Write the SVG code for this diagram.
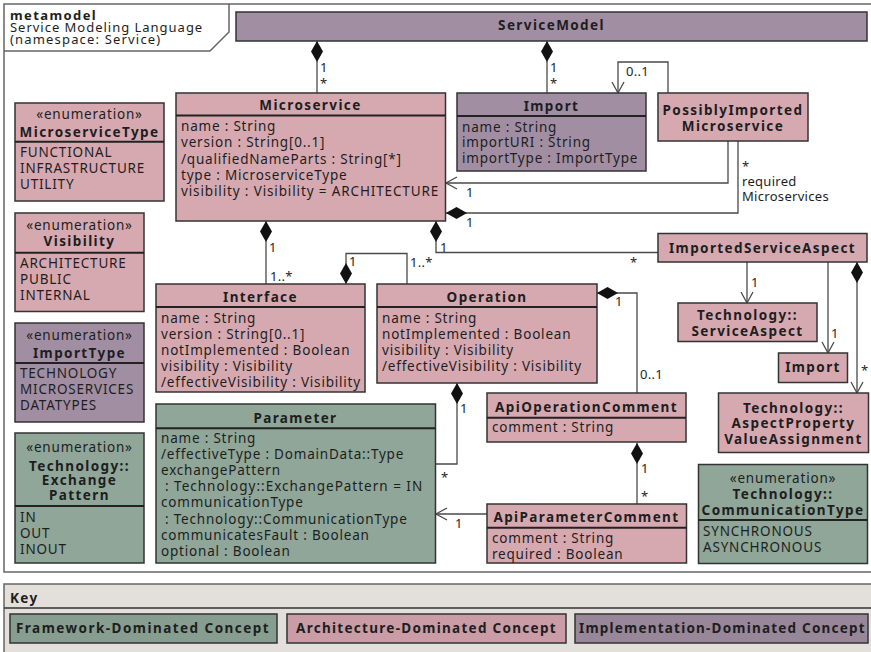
<svg xmlns="http://www.w3.org/2000/svg" width="871" height="652" viewBox="0 0 871 652">
<defs>
<style>
text{font-family:"Noto Sans","Open Sans","DejaVu Sans",sans-serif;font-size:13.5px;letter-spacing:0.8px;fill:#1e1e1e}
.b{font-weight:700;letter-spacing:1.4px}
.m{text-anchor:middle}
.lb{font-size:13px;letter-spacing:0.3px}
.hd{font-size:13px}
.box{stroke:#333;stroke-width:1.5}
.sep{stroke:#222;stroke-width:2}
.pk{fill:#d6a9b1}
.pu{fill:#a28ea3}
.gr{fill:#8fa699}
.cn{fill:none;stroke:#4a4a4a;stroke-width:1.3}
.frame{fill:none;stroke:#666;stroke-width:1.5}
</style>
<marker id="dia" markerUnits="userSpaceOnUse" markerWidth="22" markerHeight="14" refX="0" refY="6.5" orient="auto"><path d="M0,6.5 L10.5,0.5 L21,6.5 L10.5,12.5 Z" fill="#111"/></marker>
<marker id="arr" markerUnits="userSpaceOnUse" markerWidth="14" markerHeight="14" refX="12" refY="7" orient="auto"><path d="M1,1 L12,7 L1,13" fill="none" stroke="#4a4a4a" stroke-width="1.3"/></marker>
</defs>
<rect width="871" height="652" fill="#fff"/>
<g id="frame">
<rect class="frame" x="4" y="4" width="880" height="568"/>
<path class="frame" d="M4,51 H210 L229,32 V4"/>
<text class="b hd" x="10" y="19.5">metamodel</text>
<text class="hd" x="10" y="31.5" textLength="193" lengthAdjust="spacing">Service Modeling Language</text>
<text class="hd" x="10" y="44" textLength="151" lengthAdjust="spacing">(namespace: Service)</text>
</g>

<g id="connectors">
<path class="cn" d="M317,41 V93" marker-start="url(#dia)"/>
<path class="cn" d="M547,41 V93" marker-start="url(#dia)"/>
<path class="cn" d="M668,93 V62 H618 V93" marker-end="url(#arr)"/>
<path class="cn" d="M728,141 V183 H446" marker-end="url(#arr)"/>
<path class="cn" d="M446,213 H738 V141" marker-start="url(#dia)"/>
<path class="cn" d="M266,221 V284" marker-start="url(#dia)"/>
<path class="cn" d="M436,221 V252.5 H658" marker-start="url(#dia)"/>
<path class="cn" d="M346,284 V253.5 H407 V284" marker-start="url(#dia)"/>
<path class="cn" d="M597,293 H637 V393" marker-start="url(#dia)"/>
<path class="cn" d="M457,383 V464 H436" marker-start="url(#dia)"/>
<path class="cn" d="M487,514 H436" marker-end="url(#arr)"/>
<path class="cn" d="M637,443 V504" marker-start="url(#dia)"/>
<path class="cn" d="M747,262 V303" marker-end="url(#arr)"/>
<path class="cn" d="M828,262 V353" marker-end="url(#arr)"/>
<path class="cn" d="M857,262 V393" marker-start="url(#dia)" marker-end="url(#arr)"/>
<text class="lb" x="320" y="71.5">1</text>
<text class="lb" x="320" y="88">*</text>
<text class="lb" x="550" y="71.5">1</text>
<text class="lb" x="550" y="88">*</text>
<text class="lb" x="626" y="76">0..1</text>
<text class="lb" x="466" y="196.5">1</text>
<text class="lb" x="466" y="226.5">1</text>
<text class="lb" x="742" y="171">*</text>
<text class="lb" x="742" y="185.5">required</text>
<text class="lb" x="742" y="200.5">Microservices</text>
<text class="lb" x="269" y="252">1</text>
<text class="lb" x="270" y="280.5">1..*</text>
<text class="lb" x="440" y="251.5">1</text>
<text class="lb" x="630" y="267">*</text>
<text class="lb" x="349" y="266">1</text>
<text class="lb" x="410" y="266.5">1..*</text>
<text class="lb" x="615" y="306">1</text>
<text class="lb" x="640" y="378.5">0..1</text>
<text class="lb" x="460" y="412.5">1</text>
<text class="lb" x="441" y="482">*</text>
<text class="lb" x="455" y="528">1</text>
<text class="lb" x="641" y="473.3">1</text>
<text class="lb" x="641" y="501">*</text>
<text class="lb" x="751" y="286.5">1</text>
<text class="lb" x="831" y="338">1</text>
<text class="lb" x="861" y="375">*</text>
</g>

<g id="ServiceModel">
<rect class="box pu" x="236" y="12" width="631" height="29"/>
<text class="b m" x="551.5" y="30">ServiceModel</text>
</g>

<g id="Microservice">
<rect class="box pk" x="176" y="93" width="269.5" height="128"/>
<line class="sep" x1="176" y1="115.5" x2="445.5" y2="115.5"/>
<text class="b m" x="310.5" y="110">Microservice</text>
<text x="181" y="131.2">name : String</text>
<text x="181" y="147.4">version : String[0..1]</text>
<text x="181" y="163.6">/qualifiedNameParts : String[*]</text>
<text x="181" y="179.8">type : MicroserviceType</text>
<text x="181" y="196" textLength="258" lengthAdjust="spacing">visibility : Visibility = ARCHITECTURE</text>
</g>

<g id="Import">
<rect class="box pu" x="457" y="93" width="189" height="78"/>
<line class="sep" x1="457" y1="116" x2="646" y2="116"/>
<text class="b m" x="551.5" y="110.5">Import</text>
<text x="462" y="131.5">name : String</text>
<text x="462" y="147.3">importURI : String</text>
<text x="462" y="163">importType : ImportType</text>
</g>

<g id="PossiblyImportedMicroservice">
<rect class="box pk" x="658" y="93" width="150" height="48"/>
<text class="b m" x="733" y="114.7">PossiblyImported</text>
<text class="b m" x="733" y="130.5">Microservice</text>
</g>

<g id="MicroserviceType">
<rect class="box pk" x="15" y="103" width="149" height="98"/>
<line class="sep" x1="15" y1="141.7" x2="164" y2="141.7"/>
<text class="m" x="89.5" y="119">«enumeration»</text>
<text class="b m" x="89.5" y="137">MicroserviceType</text>
<text x="20" y="157.3">FUNCTIONAL</text>
<text x="20" y="173.3">INFRASTRUCTURE</text>
<text x="20" y="189.3">UTILITY</text>
</g>

<g id="Visibility">
<rect class="box pk" x="15" y="213" width="129" height="98.5"/>
<line class="sep" x1="15" y1="252.7" x2="144" y2="252.7"/>
<text class="m" x="79.5" y="230">«enumeration»</text>
<text class="b m" x="79.5" y="246">Visibility</text>
<text x="20" y="268.3">ARCHITECTURE</text>
<text x="20" y="284.3">PUBLIC</text>
<text x="20" y="300.3">INTERNAL</text>
</g>

<g id="ImportType">
<rect class="box pu" x="15" y="323" width="129" height="99"/>
<line class="sep" x1="15" y1="363" x2="144" y2="363"/>
<text class="m" x="79.5" y="340">«enumeration»</text>
<text class="b m" x="79.5" y="357.5">ImportType</text>
<text x="20" y="378.3">TECHNOLOGY</text>
<text x="20" y="394.3">MICROSERVICES</text>
<text x="20" y="410.3">DATATYPES</text>
</g>

<g id="ExchangePattern">
<rect class="box gr" x="15" y="433" width="129" height="130"/>
<line class="sep" x1="15" y1="506" x2="144" y2="506"/>
<text class="m" x="79.5" y="452">«enumeration»</text>
<text class="b m" x="79.5" y="470.5">Technology::</text>
<text class="b m" x="79.5" y="485">Exchange</text>
<text class="b m" x="79.5" y="500">Pattern</text>
<text x="20" y="521.7">IN</text>
<text x="20" y="537.7">OUT</text>
<text x="20" y="553.7">INOUT</text>
</g>

<g id="Interface">
<rect class="box pk" x="156" y="284" width="209" height="108"/>
<line class="sep" x1="156" y1="307" x2="365" y2="307"/>
<text class="b m" x="260.5" y="301.7">Interface</text>
<text x="161" y="322.5">name : String</text>
<text x="161" y="338.5">version : String[0..1]</text>
<text x="161" y="354.5">notImplemented : Boolean</text>
<text x="161" y="370.5">visibility : Visibility</text>
<text x="161" y="386.5">/effectiveVisibility : Visibility</text>
</g>

<g id="Operation">
<rect class="box pk" x="377" y="284" width="220" height="99"/>
<line class="sep" x1="377" y1="307" x2="597" y2="307"/>
<text class="b m" x="487" y="301.7">Operation</text>
<text x="382" y="322.5">name : String</text>
<text x="382" y="338.5">notImplemented : Boolean</text>
<text x="382" y="354.5">visibility : Visibility</text>
<text x="382" y="370.5">/effectiveVisibility : Visibility</text>
</g>

<g id="Parameter">
<rect class="box gr" x="156" y="404" width="279.5" height="159"/>
<line class="sep" x1="156" y1="428.3" x2="435.5" y2="428.3"/>
<text class="b m" x="295.5" y="422.5">Parameter</text>
<text x="161" y="443">name : String</text>
<text x="161" y="459.1">/effectiveType : DomainData::Type</text>
<text x="161" y="475.2">exchangePattern</text>
<text x="165" y="491.3" textLength="258" lengthAdjust="spacing">: Technology::ExchangePattern = IN</text>
<text x="161" y="507.4">communicationType</text>
<text x="165" y="523.5">: Technology::CommunicationType</text>
<text x="161" y="539.6">communicatesFault : Boolean</text>
<text x="161" y="555.7">optional : Boolean</text>
</g>

<g id="ApiOperationComment">
<rect class="box pk" x="487" y="393" width="199" height="49"/>
<line class="sep" x1="487" y1="417.7" x2="686" y2="417.7"/>
<text class="b m" x="586.5" y="411.7">ApiOperationComment</text>
<text x="492" y="432">comment : String</text>
</g>

<g id="ApiParameterComment">
<rect class="box pk" x="487" y="504" width="199.5" height="59"/>
<line class="sep" x1="487" y1="527.7" x2="686.5" y2="527.7"/>
<text class="b m" x="586.5" y="521.7">ApiParameterComment</text>
<text x="492" y="543">comment : String</text>
<text x="492" y="559">required : Boolean</text>
</g>

<g id="ImportedServiceAspect">
<rect class="box pk" x="658" y="233.5" width="209" height="28.5"/>
<text class="b m" x="762.5" y="253.3">ImportedServiceAspect</text>
</g>

<g id="TechnologyServiceAspect">
<rect class="box pk" x="678" y="303" width="139" height="38.5"/>
<text class="b m" x="747.5" y="319.7">Technology::</text>
<text class="b m" x="747.5" y="335.7">ServiceAspect</text>
</g>

<g id="ImportRef">
<rect class="box pk" x="778.5" y="353" width="69" height="29.5"/>
<text class="b m" x="813" y="371.7">Import</text>
</g>

<g id="AspectPropertyValueAssignment">
<rect class="box pk" x="718.5" y="393" width="150" height="59.5"/>
<text class="b m" x="793.5" y="412.5">Technology::</text>
<text class="b m" x="793.5" y="428.3">AspectProperty</text>
<text class="b m" x="793.5" y="443.8">ValueAssignment</text>
</g>

<g id="CommunicationType">
<rect class="box gr" x="698.5" y="464.5" width="169" height="99"/>
<line class="sep" x1="698.5" y1="520" x2="867.5" y2="520"/>
<text class="m" x="783" y="483">«enumeration»</text>
<text class="b m" x="783" y="498.5">Technology::</text>
<text class="b m" x="783" y="515">CommunicationType</text>
<text x="703" y="536">SYNCHRONOUS</text>
<text x="703" y="551.7">ASYNCHRONOUS</text>
</g>

<g id="Key">
<rect x="4" y="584" width="880" height="75" fill="#e3dfdb" stroke="#666" stroke-width="1.5"/>
<line x1="4" y1="608" x2="884" y2="608" stroke="#333" stroke-width="1.5"/>
<text class="b" x="10" y="603">Key</text>
<rect class="box" x="10" y="614" width="267" height="29" fill="#879d90"/>
<text class="b" x="16" y="633" textLength="254" lengthAdjust="spacing">Framework-Dominated Concept</text>
<rect class="box" x="287" y="614" width="279" height="29" fill="#c99ca6"/>
<text class="b" x="296" y="633" textLength="261" lengthAdjust="spacing">Architecture-Dominated Concept</text>
<rect class="box" x="575" y="614" width="293" height="29" fill="#988699"/>
<text class="b" x="579" y="633" textLength="287" lengthAdjust="spacing">Implementation-Dominated Concept</text>
</g>
</svg>
